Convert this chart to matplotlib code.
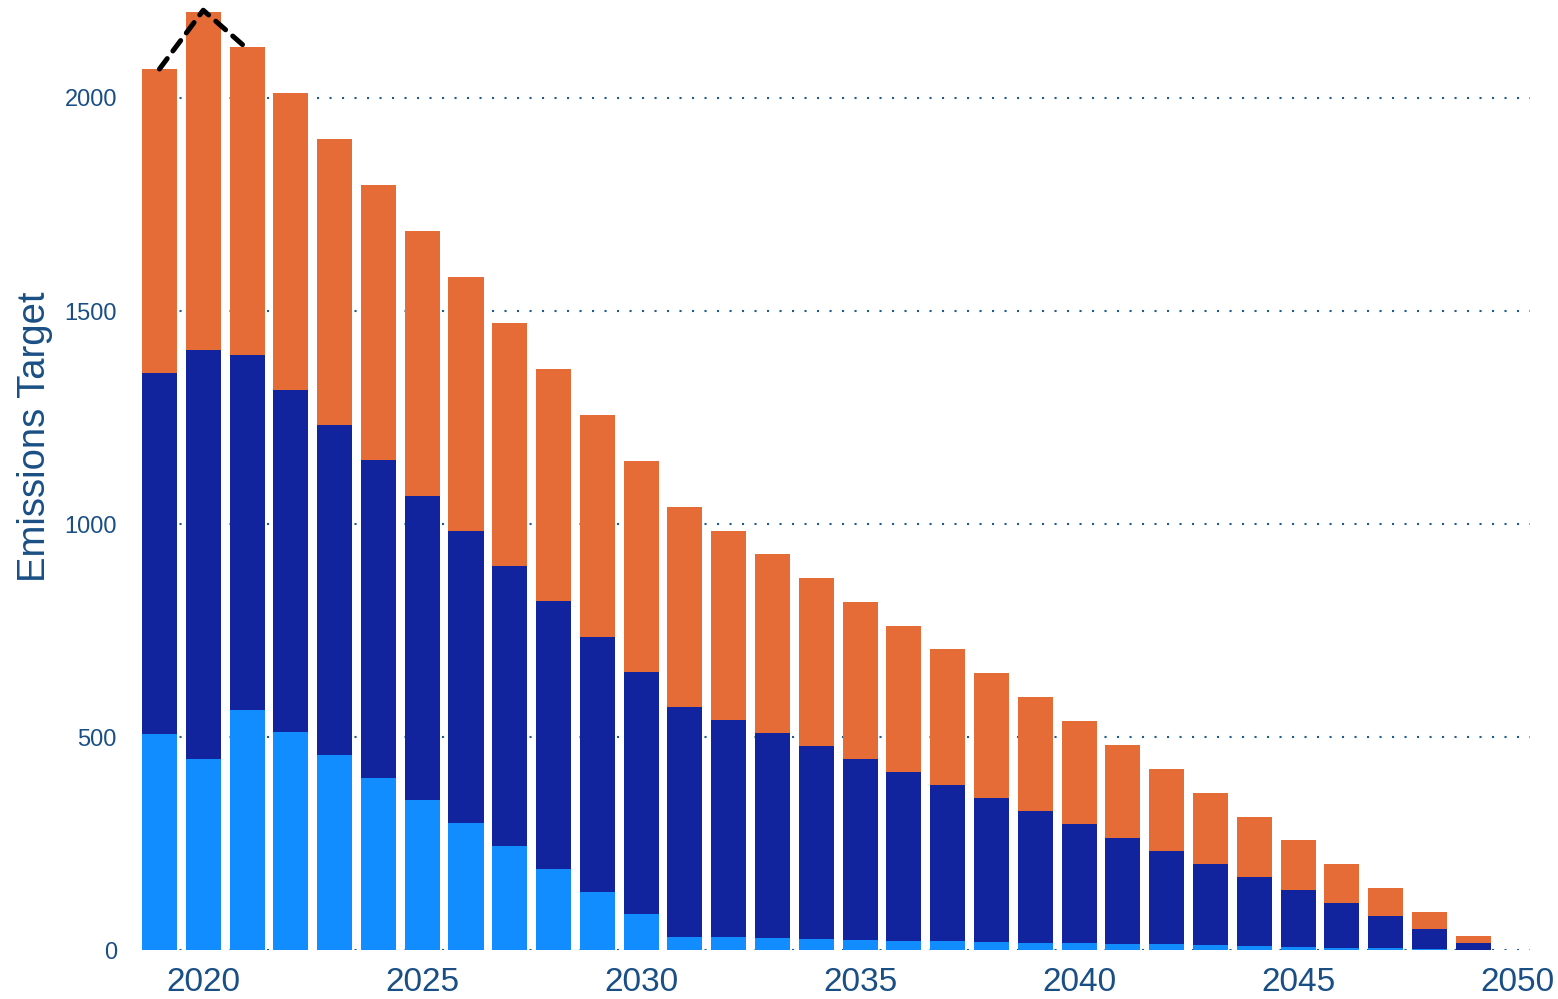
import numpy as np
import matplotlib.pyplot as plt

# Data
years = list(range(2019, 2050))
bottom_vals = [507, 448, 563, 512, 458, 404, 352, 298, 244, 190, 136, 85,
               31, 30, 28, 26, 24, 21, 21, 19, 16, 16, 14, 14, 12, 9, 7, 5, 5, 2, 0]
middle_top = [1354, 1408, 1397, 1315, 1232, 1150, 1066, 984, 901, 819, 735, 653,
              570, 540, 509, 479, 448, 418, 387, 357, 326, 296, 263, 232, 202, 171,
              141, 110, 80, 49, 16]
totals = [2068, 2202, 2120, 2012, 1904, 1796, 1688, 1580, 1472, 1364, 1256, 1148,
          1040, 984, 930, 873, 817, 761, 707, 650, 594, 538, 481, 425, 369, 312,
          258, 202, 146, 89, 33]
line_years = [2019, 2020, 2021]
line_vals = [2068, 2206, 2116]

light = np.array(bottom_vals)
mid = np.array(middle_top) - light
top = np.array(totals) - np.array(middle_top)

text_col = '#1a4f85'

fig = plt.figure(figsize=(15.58, 9.99), dpi=100)
ax = fig.add_axes([0.0911, 0.049, 0.891, 0.951])

ax.bar(years, light, width=0.8, color='#118DFF', zorder=2)
ax.bar(years, mid, width=0.8, bottom=light, color='#12239E', zorder=2)
ax.bar(years, top, width=0.8, bottom=light + mid, color='#E66C37', zorder=2)
ax.plot(line_years, line_vals, color='black', linestyle=(0, (2.6, 1.9)), linewidth=3.6,
        zorder=3, dash_capstyle='round')

ax.set_xlim(2018.6, 2050.3)
ax.set_ylim(0, 2230)
ax.set_yticks([0, 500, 1000, 1500, 2000])
ax.set_xticks([2020, 2025, 2030, 2035, 2040, 2045, 2050])
ax.grid(axis='y', color='#1f5b8c', linestyle=(0, (1, 5)), linewidth=1.5, zorder=1)
ax.grid(axis='x', visible=False)
for s in ax.spines.values():
    s.set_visible(False)
ax.tick_params(length=0)
ax.tick_params(axis='y', labelsize=17, labelcolor=text_col, pad=18)
ax.tick_params(axis='x', labelsize=24, labelcolor=text_col, pad=12)
for lab in ax.get_xticklabels() + ax.get_yticklabels():
    lab.set_family('Liberation Sans')

ax.set_ylabel('Emissions Target', fontsize=27.5, color=text_col,
              family='Liberation Sans')
ax.yaxis.set_label_coords(-0.064, 0.54)

fig.savefig('out.png', dpi=100)
